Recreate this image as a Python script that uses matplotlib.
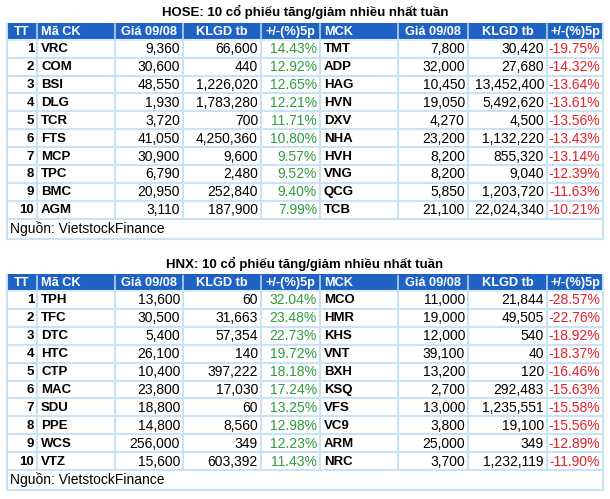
import matplotlib
matplotlib.use("Agg")
import matplotlib.pyplot as plt
from matplotlib.patches import Rectangle

plt.rcParams['font.family'] = ['Liberation Sans', 'DejaVu Sans']

# ---------------- data ----------------
hose_title = "HOSE: 10 cổ phiếu tăng/giảm nhiều nhất tuần"
hnx_title = "HNX: 10 cổ phiếu tăng/giảm nhiều nhất tuần"
headers = ["TT", "Mã CK", "Giá 09/08", "KLGD tb", "+/-(%)5p", "MCK", "Giá 09/08", "KLGD tb", "+/-(%)5p"]
source_text = "Nguồn: VietstockFinance"
ranks = list(range(1, 11))

hose_up_codes = ["VRC", "COM", "BSI", "DLG", "TCR", "FTS", "MCP", "TPC", "BMC", "AGM"]
hose_up_price = [9360, 30600, 48550, 1930, 3720, 41050, 30900, 6790, 20950, 3110]
hose_up_vol = [66600, 440, 1226020, 1783280, 700, 4250360, 9600, 2480, 252840, 187900]
hose_up_pct = [14.43, 12.92, 12.65, 12.21, 11.71, 10.80, 9.57, 9.52, 9.40, 7.99]

hose_dn_codes = ["TMT", "ADP", "HAG", "HVN", "DXV", "NHA", "HVH", "VNG", "QCG", "TCB"]
hose_dn_price = [7800, 32000, 10450, 19050, 4270, 23200, 8200, 8200, 5850, 21100]
hose_dn_vol = [30420, 27680, 13452400, 5492620, 4500, 1132220, 855320, 9040, 1203720, 22024340]
hose_dn_pct = [-19.75, -14.32, -13.64, -13.61, -13.56, -13.43, -13.14, -12.39, -11.63, -10.21]

hnx_up_codes = ["TPH", "TFC", "DTC", "HTC", "CTP", "MAC", "SDU", "PPE", "WCS", "VTZ"]
hnx_up_price = [13600, 30500, 5400, 26100, 10400, 23800, 18800, 14800, 256000, 15600]
hnx_up_vol = [60, 31663, 57354, 140, 397222, 17030, 60, 8560, 349, 603392]
hnx_up_pct = [32.04, 23.48, 22.73, 19.72, 18.18, 17.24, 13.25, 12.98, 12.23, 11.43]

hnx_dn_codes = ["MCO", "HMR", "KHS", "VNT", "BXH", "KSQ", "VFS", "VC9", "ARM", "NRC"]
hnx_dn_price = [11000, 19000, 12000, 39100, 13200, 2700, 13000, 3800, 25000, 3700]
hnx_dn_vol = [21844, 49505, 540, 40, 120, 292483, 1235551, 19100, 349, 1232119]
hnx_dn_pct = [-28.57, -22.76, -18.92, -18.37, -16.46, -15.63, -15.58, -15.56, -12.89, -11.90]

# ---------------- layout ----------------
W, H = 610, 499
HEADER_BG = "#1F62C6"
GRID = "#C8E2F6"
GREEN = "#2E9B3E"
RED = "#E2202C"
col_edges = [7, 37, 115, 183, 261, 320, 398, 468, 547, 603]

fig = plt.figure(figsize=(W / 100, H / 100), dpi=100)
ax = fig.add_axes([0, 0, 1, 1])
ax.set_xlim(0, W)
ax.set_ylim(H, 0)
ax.axis("off")

FS = 10
FSB = 9.5
FSH = 9.2


def draw_table(top, title, up, dn):
    header_h = 17
    row_h = 17.9
    src_h = 20
    ax.text(305, top - 10.5, title, ha="center", va="center", fontsize=FSB,
            fontweight="bold", color="black")
    # header background
    ax.add_patch(Rectangle((col_edges[0], top), col_edges[-1] - col_edges[0], header_h,
                           facecolor=HEADER_BG, edgecolor="none"))
    hcy = top + header_h / 2 + 0.5
    for i, h in enumerate(headers):
        x0, x1 = col_edges[i], col_edges[i + 1]
        if i in (1, 5):
            ax.text(x0 + 4, hcy, h, ha="left", va="center", fontsize=FSH,
                    fontweight="bold", color="white")
        else:
            ax.text((x0 + x1) / 2, hcy, h, ha="center", va="center", fontsize=FSH,
                    fontweight="bold", color="white")
    body_top = top + header_h
    (uc, up_p, up_v, up_pc), (dc, dn_p, dn_v, dn_pc) = up, dn
    for r in range(10):
        cy = body_top + row_h * r + row_h / 2 + 0.5
        vals = [str(ranks[r]), uc[r], f"{up_p[r]:,}", f"{up_v[r]:,}", f"{up_pc[r]:.2f}%",
                dc[r], f"{dn_p[r]:,}", f"{dn_v[r]:,}", f"{dn_pc[r]:.2f}%"]
        for i, v in enumerate(vals):
            x0, x1 = col_edges[i], col_edges[i + 1]
            if i in (1, 5):
                ax.text(x0 + 4, cy, v, ha="left", va="center", fontsize=FSB,
                        fontweight="bold", color="black")
            else:
                color = "black"
                weight = "normal"
                size = FS
                if i == 0:
                    weight = "bold"
                    size = FSB
                if i == 4:
                    color = GREEN
                if i == 8:
                    color = RED
                ax.text(x1 - 3, cy, v, ha="right", va="center", fontsize=size,
                        fontweight=weight, color=color)
    src_top = body_top + 10 * row_h
    ax.text(col_edges[0] + 3, src_top + src_h / 2, source_text, ha="left", va="center",
            fontsize=FS, color="black")
    bottom = src_top + src_h
    # grid lines
    lw = 1.5
    for k in range(11):
        y = body_top + row_h * k
        ax.plot([col_edges[0], col_edges[-1]], [y, y], color=GRID if k > 0 else "#DDEEFA",
                lw=lw, solid_capstyle="butt")
    ax.plot([col_edges[0], col_edges[-1]], [bottom, bottom], color=GRID, lw=lw)
    for j, x in enumerate(col_edges):
        if j in (0, len(col_edges) - 1):
            ax.plot([x, x], [top, bottom], color=GRID, lw=lw)
        else:
            ax.plot([x, x], [top + 1.5, top + header_h - 1], color="#B8D4F0", lw=1.2)
            ax.plot([x, x], [body_top, src_top], color=GRID, lw=lw)


draw_table(22.7, hose_title,
           (hose_up_codes, hose_up_price, hose_up_vol, hose_up_pct),
           (hose_dn_codes, hose_dn_price, hose_dn_vol, hose_dn_pct))
draw_table(274, hnx_title,
           (hnx_up_codes, hnx_up_price, hnx_up_vol, hnx_up_pct),
           (hnx_dn_codes, hnx_dn_price, hnx_dn_vol, hnx_dn_pct))

fig.savefig("out.png", dpi=100, facecolor="white")
